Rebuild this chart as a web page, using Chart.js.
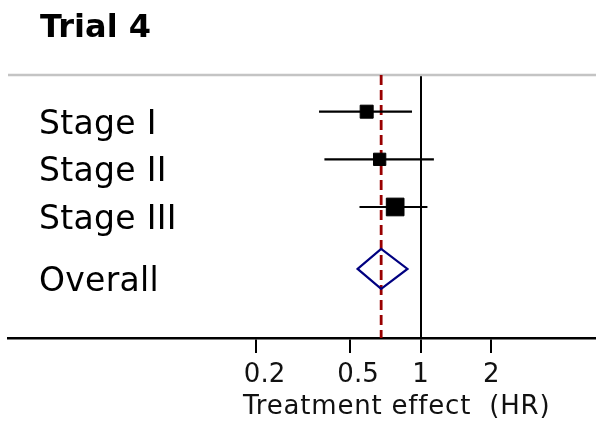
<!DOCTYPE html>
<html>
<head>
<meta charset="utf-8">
<script src="https://cdn.jsdelivr.net/npm/chart.js@4.4.1/dist/chart.umd.min.js"></script>
<style>
  html, body { margin: 0; padding: 0; background: #fff; }
  #wrap { width: 596px; height: 429px; }
</style>
</head>
<body>
<div id="wrap"><canvas id="c"></canvas></div>
<script>
// Subgroup hazard ratios with 95% confidence intervals
const subgroups = ['Stage I', 'Stage II', 'Stage III'];
const hr = [0.59, 0.67, 0.78];
const ciLow = [0.37, 0.39, 0.55];
const ciHigh = [0.92, 1.14, 1.07];

// Pooled estimate
const overallLabel = 'Overall';
const overallHR = 0.68;
const overallLow = 0.54;
const overallHigh = 0.88;

const tickValues = [0.2, 0.5, 1, 2];
const titleText = 'Trial 4';
const axisTitle = 'Treatment effect  (HR)';

// row index on the (reversed) y scale
const rows = subgroups.map((_, i) => i + 1);
const overallRow = subgroups.length + 1.3;

const FONT = '"DejaVu Sans", Verdana, sans-serif';

const forestPlugin = {
  id: 'forest',
  beforeDatasetsDraw(chart) {
    const { ctx, chartArea: a, scales: { x, y } } = chart;
    ctx.save();
    // top rule
    ctx.strokeStyle = '#c4c4c4';
    ctx.lineWidth = 2.5;
    ctx.beginPath();
    ctx.moveTo(a.left, a.top);
    ctx.lineTo(a.right, a.top);
    ctx.stroke();

    // dashed line at the pooled estimate
    const px = x.getPixelForValue(overallHR);
    ctx.strokeStyle = '#990000';
    ctx.lineWidth = 2.8;
    ctx.setLineDash([10, 5]);
    ctx.beginPath();
    ctx.moveTo(px, a.top);
    ctx.lineTo(px, a.bottom);
    ctx.stroke();
    ctx.setLineDash([]);

    // confidence interval whiskers
    ctx.strokeStyle = '#000';
    ctx.lineWidth = 2.2;
    rows.forEach((r, i) => {
      const py = y.getPixelForValue(r);
      ctx.beginPath();
      ctx.moveTo(x.getPixelForValue(ciLow[i]), py);
      ctx.lineTo(x.getPixelForValue(ciHigh[i]), py);
      ctx.stroke();
    });

    // pooled diamond
    const oy = y.getPixelForValue(overallRow);
    const half = 20;
    ctx.strokeStyle = '#000080';
    ctx.lineWidth = 2.2;
    ctx.lineJoin = 'miter';
    ctx.beginPath();
    ctx.moveTo(x.getPixelForValue(overallLow), oy);
    ctx.lineTo(px, oy - half);
    ctx.lineTo(x.getPixelForValue(overallHigh), oy);
    ctx.lineTo(px, oy + half);
    ctx.closePath();
    ctx.stroke();
    ctx.restore();
  },
  afterDraw(chart) {
    const { ctx, chartArea: a, scales: { y } } = chart;
    ctx.save();
    ctx.fillStyle = '#000';
    ctx.textAlign = 'left';
    ctx.textBaseline = 'alphabetic';

    // title
    ctx.font = 'bold 32px ' + FONT;
    ctx.fillText(titleText, 40, 37);

    // row labels
    ctx.font = '33px ' + FONT;
    ctx.letterSpacing = '0.3px';
    rows.forEach((r, i) => {
      ctx.fillText(subgroups[i], 39, y.getPixelForValue(r) + 22);
    });
    ctx.fillText(overallLabel, 39, y.getPixelForValue(overallRow) + 22);

    // axis title
    ctx.font = '26px ' + FONT;
    ctx.letterSpacing = '0.8px';
    ctx.fillStyle = '#111';
    ctx.fillText(axisTitle, a.left + 235, 414);
    ctx.restore();
  }
};

new Chart(document.getElementById('c'), {
  type: 'scatter',
  data: {
    datasets: [{
      data: hr.map((v, i) => ({ x: v, y: rows[i] })),
      pointStyle: 'rect',
      pointRadius: [9.2, 8.7, 12.5],
      pointHoverRadius: [9.2, 8.7, 12.5],
      backgroundColor: '#000',
      borderColor: '#000',
      borderWidth: 1
    }]
  },
  options: {
    responsive: true,
    maintainAspectRatio: false,
    animation: false,
    events: [],
    layout: { autoPadding: false, padding: { left: 8, right: 0, top: 75, bottom: 0 } },
    plugins: { legend: { display: false }, tooltip: { enabled: false }, title: { display: false } },
    scales: {
      x: {
        type: 'logarithmic',
        min: 0.01757,
        max: 5.58,
        afterBuildTicks: s => { s.ticks = tickValues.map(v => ({ value: v })); },
        afterFit: s => { s.height = 91; },
        border: { display: true, color: '#000', width: 2.5 },
        grid: {
          drawOnChartArea: true,
          color: c => (c.tick && c.tick.value === 1) ? '#000' : 'rgba(0,0,0,0)',
          lineWidth: 2,
          tickColor: '#000',
          tickWidth: 2,
          tickLength: 15
        },
        ticks: {
          autoSkip: false,
          maxRotation: 0,
          padding: 7,
          color: '#111',
          font: { family: FONT, size: 26 },
          // fractional labels sit a little right of their tick marks
          callback: v => (v < 1 ? '  ' : '') + String(v)
        }
      },
      y: {
        type: 'linear',
        reverse: true,
        min: 0.23,
        max: 5.75,
        display: false
      }
    }
  },
  plugins: [forestPlugin]
});
</script>
</body>
</html>
